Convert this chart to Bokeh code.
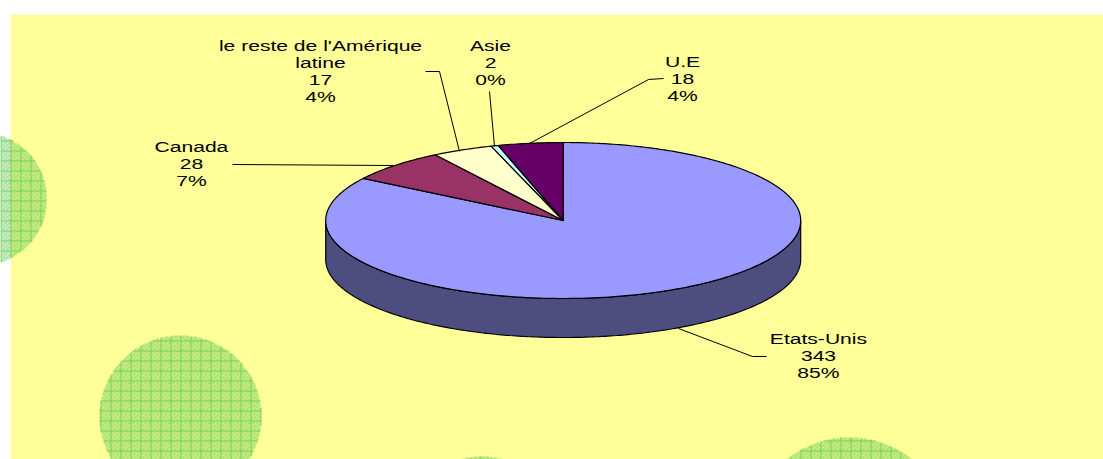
import numpy as np
from bokeh.embed import file_html
from bokeh.resources import INLINE
from bokeh.plotting import figure
from bokeh.io import curdoc
from bokeh.events import DocumentReady
from bokeh.models import Range1d, CustomJS
from bokeh.core.properties import value

# ---- data ----
categories = ["Etats-Unis", "Canada", "le reste de l'Amérique\nlatine", "Asie", "U.E"]
values = [343, 28, 17, 2, 18]
percents = ["85%", "7%", "4%", "0%", "4%"]
colors = ["#9999FF", "#993366", "#FFFFCC", "#CCFFFF", "#660066"]
wall_color = "#4D4D80"

# ---- layout (page pixels) ----
W, H = 1103, 459
YELLOW = "#FFFF99"
CX, CY, RX, RY, DEPTH = 562.7, 220, 237.5, 78, 39
label_pos = [(818, 338), (191, 146), (320, 45), (490, 45), (682, 61)]
leaders = [
    [(678, 328), (752, 356), (766, 356)],
    [(232, 164), (393, 165)],
    [(425, 71), (439, 71), (459, 151)],
    [(489, 91), (494, 146)],
    [(529, 143), (648, 79), (663, 78)],
]
bubbles = [(-20, 198.5, 66.5), (180, 416, 81), (849, 538, 101), (481, 536, 80)]

p = figure(width=W, height=H, x_range=Range1d(0, W), y_range=Range1d(H, 0),
           output_backend="svg", toolbar_location=None, min_border=0,
           outline_line_color=None, background_fill_color="white", border_fill_color="white")
p.xaxis.visible = False
p.yaxis.visible = False
p.grid.visible = False

p.quad(left=10, right=W, top=14, bottom=H, fill_color=YELLOW, line_color=None)


def bubble(cx, cy, r):
    x0, y0 = int(np.floor(cx - r)), int(np.floor(cy - r))
    n = int(2 * r) + 2
    xs, ys = np.meshgrid(np.arange(x0, x0 + n), np.arange(y0, y0 + n))
    alpha = np.where((xs // 2 + ys // 2) % 2 == 0, 0.25, 0.6)
    alpha = np.where((xs % 10 == 0) | (ys % 10 == 0), 0.85, alpha)
    inside = (xs + 0.5 - cx) ** 2 + (ys + 0.5 - cy) ** 2 <= r ** 2
    img = np.zeros((n, n), dtype=np.uint32)
    view = img.view(dtype=np.uint8).reshape((n, n, 4))
    view[..., 0] = 96
    view[..., 1] = 200
    view[..., 2] = 80
    view[..., 3] = (alpha * inside * 255).astype(np.uint8)
    p.image_rgba(image=[img], x=x0, y=y0, dw=n, dh=n)


for b in bubbles:
    bubble(*b)

# ---- pie ----
total = sum(values)
fractions = np.cumsum([0] + values) / total


def arc(t0, t1, dy=0.0):
    t = np.linspace(t0, t1, max(int(abs(t1 - t0) * 80), 4))
    return CX + RX * np.sin(t), CY + dy - RY * np.cos(t)


ax, ay = arc(np.pi / 2, 3 * np.pi / 2)
bx, by = arc(3 * np.pi / 2, np.pi / 2, DEPTH)
p.patch(np.r_[ax, bx], np.r_[ay, by], fill_color=wall_color, line_color="black", line_width=1.2)

for i, col in enumerate(colors):
    x, y = arc(2 * np.pi * fractions[i], 2 * np.pi * fractions[i + 1])
    p.patch(np.r_[CX, x], np.r_[CY, y], fill_color=col, line_color="black", line_width=1.2,
            line_join="round")

for pts in leaders:
    p.line([q[0] for q in pts], [q[1] for q in pts], line_color="black", line_width=1)

# ---- labels ----
LH = 17
for cat, val, pct, (lx, ly) in zip(categories, values, percents, label_pos):
    lines = cat.split("\n") + [str(val), pct]
    p.text(x=[lx] * len(lines), y=[ly + LH * k for k in range(len(lines))], text=lines,
           text_align="center", text_baseline="middle", text_color="black",
           text_font=value("Liberation Sans"), text_font_size="15.5px")

# the reference's labels are stretched sideways, each about its own centre
stretch = CustomJS(code="""
function walk(root) {
  root.querySelectorAll('*').forEach((el) => {
    if (el.tagName === 'text' && !el.dataset.stretched) {
      const box = el.getBBox();
      const c = box.x + box.width / 2;
      const old = el.getAttribute('transform') || '';
      el.setAttribute('transform', `${old} translate(${c} 0) scale(1.36 1) translate(${-c} 0)`);
      el.dataset.stretched = '1';
    }
    if (el.shadowRoot) walk(el.shadowRoot);
  });
}
const run = () => walk(document);
run();
[50, 150, 400, 1000].forEach((t) => setTimeout(run, t));
""")
doc = curdoc()
doc.add_root(p)
doc.js_on_event(DocumentReady, stretch)

open("out.html", "w").write(file_html(p, INLINE))
